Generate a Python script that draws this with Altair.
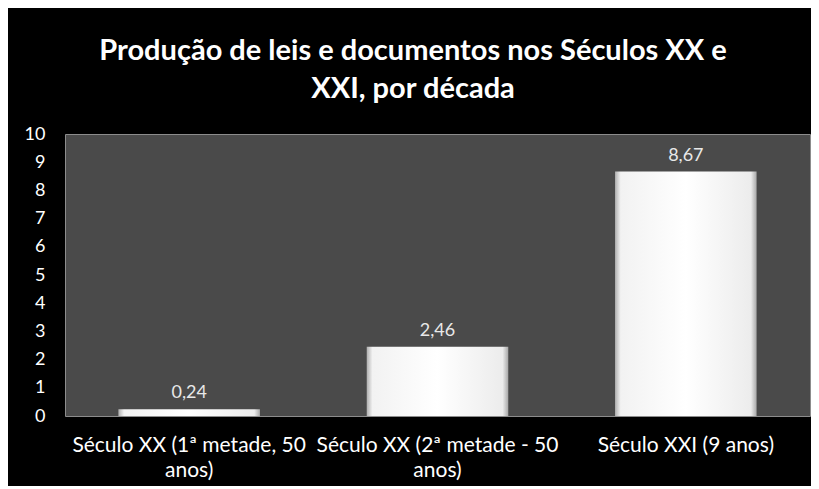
import altair as alt
import pandas as pd

categories = ["Século XX (1ª metade, 50 anos)", "Século XX (2ª metade - 50 anos)", "Século XXI (9 anos)"]
values = [0.24, 2.46, 8.67]
y_ticks = [0, 1, 2, 3, 4, 5, 6, 7, 8, 9, 10]
title_lines = ["Produção de leis e documentos nos Séculos XX e", "XXI, por década"]

df = pd.DataFrame({"cat": categories, "val": values})

FONT = "Lato"

x_enc = alt.X("cat:N", sort=categories, title=None,
              scale=alt.Scale(paddingInner=0.43, paddingOuter=0.215),
              axis=alt.Axis(labelAngle=0, labelColor="white", labelFontSize=21, labelFont=FONT,
                            labelLineHeight=25, labelPadding=18, ticks=False, domain=False,
                            labelLimit=400, labelOverlap=False,
                            minExtent=59, maxExtent=59,
                            labelExpr="indexof(datum.label, '50 anos') >= 0 ? [replace(datum.label, ' anos)', ''), 'anos)'] : datum.label"))
y_scale = alt.Scale(domain=[0, 10], nice=False)
y_enc = alt.Y("val:Q", title=None, scale=y_scale,
              axis=alt.Axis(values=y_ticks, labelColor="white", labelFontSize=18, labelFont=FONT,
                            labelPadding=20, ticks=False, domain=False, grid=False,
                            labelOverlap=False, labelSeparation=0, labelBound=False))

bars = alt.Chart(df).mark_bar(
    color=alt.Gradient(gradient="linear", x1=0, x2=1, y1=0, y2=0,
                       stops=[alt.GradientStop(offset=0, color="#b0b0b0"),
                              alt.GradientStop(offset=0.04, color="#f2f2f2"),
                              alt.GradientStop(offset=0.5, color="#ffffff"),
                              alt.GradientStop(offset=0.96, color="#ececec"),
                              alt.GradientStop(offset=1, color="#a8a8a8")])
).encode(x=x_enc, y=y_enc)

labels = alt.Chart(df).transform_calculate(
    lab="replace(format(datum.val, '.2f'), '.', ',')"
).mark_text(dy=-16, color="#e8e8e8", fontSize=18, font=FONT).encode(
    x=x_enc, y=y_enc, text="lab:N")

chart = (bars + labels).properties(
    width=745, height=282,
    padding={"left": 16, "top": 29, "right": 1, "bottom": 6},
    background="black",
    title=alt.TitleParams(text=title_lines, color="white", fontSize=29, font=FONT, fontWeight="bold",
                          lineHeight=38, anchor="middle", frame="bounds", offset=21, dx=-4),
).configure_view(fill="#4a4a4a", stroke="#8c8c8c", strokeWidth=1
).configure_axisY(labelOverlap=False, values=y_ticks)

chart.save("out.html", embed_options={"renderer": "svg", "actions": False})
